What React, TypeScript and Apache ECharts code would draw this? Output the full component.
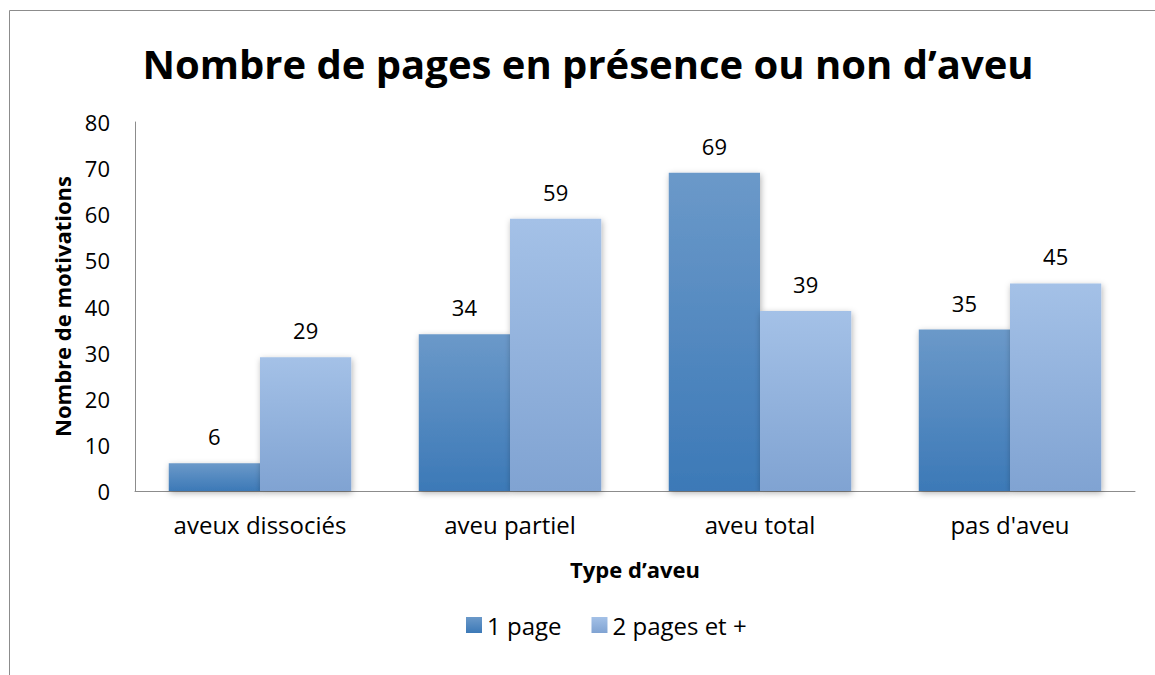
import React, { useEffect, useRef } from "react";
import * as echarts from "echarts";

const categories = ["aveux dissociés", "aveu partiel", "aveu total", "pas d'aveu"];
const onePage = [6, 34, 69, 35];
const twoPages = [29, 59, 39, 45];
const seriesNames = ["1 page", "2 pages et +"];
const yTicks = { min: 0, max: 80, interval: 10 };

const FONT = "'Open Sans', 'Noto Sans', sans-serif";

export default function App() {
  const ref = useRef<HTMLDivElement>(null);
  useEffect(() => {
    document.body.style.margin = "0";
    const chart = echarts.init(ref.current!, null, { renderer: "svg" });
    const grad = (a: string, b: string) =>
      new echarts.graphic.LinearGradient(0, 0, 0, 1, [
        { offset: 0, color: a },
        { offset: 1, color: b },
      ]);
    const c1 = grad("#6b99c9", "#3c79b7");
    const c2 = grad("#a4c1e7", "#80a3d2");
    const label = {
      show: true,
      position: "top" as const,
      distance: 16,
      color: "#000",
      fontSize: 22,
      fontFamily: FONT,
    };
    chart.setOption({
      animation: false,
      backgroundColor: "#fff",
      title: {
        text: "Nombre de pages en présence ou non d’aveu",
        left: 583,
        top: 38,
        textAlign: "center",
        textStyle: { fontSize: 40, fontWeight: "bold", color: "#000", fontFamily: FONT },
      },
      graphic: [
        {
          type: "rect",
          shape: { x: 9.5, y: 10.5, width: 1160, height: 700 },
          style: { fill: "none", stroke: "#8c8c8c", lineWidth: 1 },
          silent: true,
        },
      ],
      legend: {
        data: seriesNames,
        left: 461,
        top: 608,
        itemWidth: 16,
        itemHeight: 16,
        itemGap: 30,
        icon: "rect",
        textStyle: { fontSize: 24, color: "#000", fontFamily: FONT },
      },
      grid: { left: 135, right: 20, top: 122, bottom: 184, containLabel: false },
      xAxis: {
        type: "category",
        data: categories,
        name: "Type d’aveu",
        nameLocation: "middle",
        nameGap: 67,
        nameTextStyle: { fontSize: 22, fontWeight: "bold", color: "#000", fontFamily: FONT },
        axisLine: { lineStyle: { color: "#8c8c8c" } },
        axisTick: { show: false },
        axisLabel: { fontSize: 24, color: "#000", margin: 21, fontFamily: FONT },
      },
      yAxis: {
        type: "value",
        min: yTicks.min,
        max: yTicks.max,
        interval: yTicks.interval,
        name: "Nombre de motivations",
        nameLocation: "middle",
        nameGap: 62,
        nameTextStyle: { fontSize: 22, fontWeight: "bold", color: "#000", fontFamily: FONT },
        axisLine: { show: true, lineStyle: { color: "#8c8c8c" } },
        axisTick: { show: false },
        splitLine: { show: false },
        axisLabel: { fontSize: 22, color: "#000", margin: 25, fontFamily: FONT },
      },
      series: [
        {
          name: seriesNames[0],
          type: "bar",
          data: onePage,
          barGap: "0%",
          barCategoryGap: "27%",
          itemStyle: { color: c1, shadowColor: "rgba(0,0,0,0.3)", shadowBlur: 6, shadowOffsetX: 1, shadowOffsetY: 2 },
          label,
        },
        {
          name: seriesNames[1],
          type: "bar",
          data: twoPages,
          itemStyle: { color: c2, shadowColor: "rgba(0,0,0,0.3)", shadowBlur: 6, shadowOffsetX: 1, shadowOffsetY: 2 },
          label,
        },
      ],
    });
    return () => chart.dispose();
  }, []);
  return <div ref={ref} style={{ width: 1155, height: 675 }} />;
}
